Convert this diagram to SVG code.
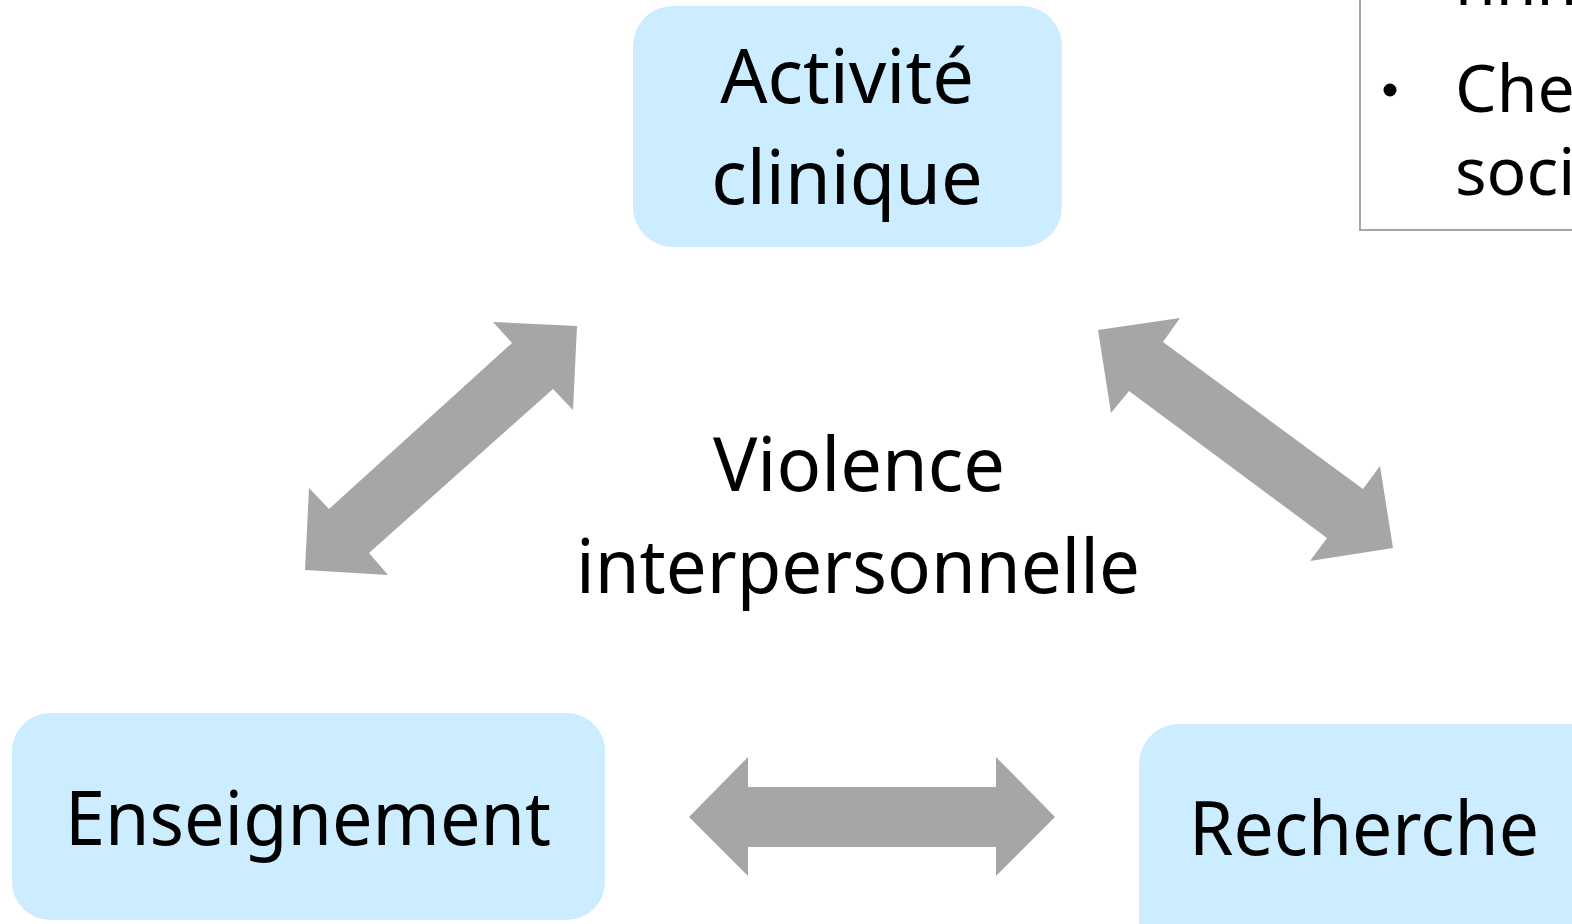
<svg xmlns="http://www.w3.org/2000/svg" width="1572" height="924" viewBox="0 0 1572 924">
<style>
.box{fill:#CCECFF;}
.t{font-family:"Noto Sans","Open Sans",sans-serif;font-size:74px;fill:#000;text-anchor:middle;}
.lt{font-family:"Noto Sans","Open Sans",sans-serif;font-size:66px;fill:#000;}
.arr{fill:#A6A6A6;}
</style>
<rect width="1572" height="924" fill="#fff"/>
<g id="legend">
<rect x="1360" y="-20" width="260" height="250" fill="#fff" stroke="#A6A6A6" stroke-width="2"/>
<text class="lt" x="1455" y="5">nnn</text>
<circle cx="1390" cy="90" r="6.5" fill="#000"/>
<text class="lt" x="1455" y="112">Chercheurs</text>
<text class="lt" x="1455" y="195">sociales</text>
</g>
<g id="activite">
<rect class="box" x="633" y="6" width="429" height="241" rx="40"/>
<text class="t" x="847" y="103">Activité</text>
<text class="t" x="847" y="204">clinique</text>
</g>
<g id="enseignement">
<rect class="box" x="12" y="713" width="593" height="207" rx="38"/>
<text class="t" x="308" y="845" textLength="486" lengthAdjust="spacingAndGlyphs">Enseignement</text>
</g>
<g id="recherche">
<rect class="box" x="1139" y="724" width="480" height="240" rx="40"/>
<text class="t" x="1364" y="855" textLength="350" lengthAdjust="spacingAndGlyphs">Recherche</text>
</g>
<g id="centre">
<text class="t" x="859" y="491">Violence</text>
<text class="t" x="858" y="593" textLength="564" lengthAdjust="spacingAndGlyphs">interpersonnelle</text>
</g>
<g id="connectors">
<polygon class="arr" points="577,326 573,410 553,389 369,553 388,575 305,570 309,488 329,509 512,343 493,322"/>
<polygon class="arr" points="1098,330 1180,318 1163,342 1363,489 1380,466 1393,548 1310,561 1327,538 1129,391 1111,413"/>
<polygon class="arr" points="689,817 748,757 748,787 996,787 996,757 1055,817 996,876 996,847 748,847 748,876"/>
</g>
</svg>
